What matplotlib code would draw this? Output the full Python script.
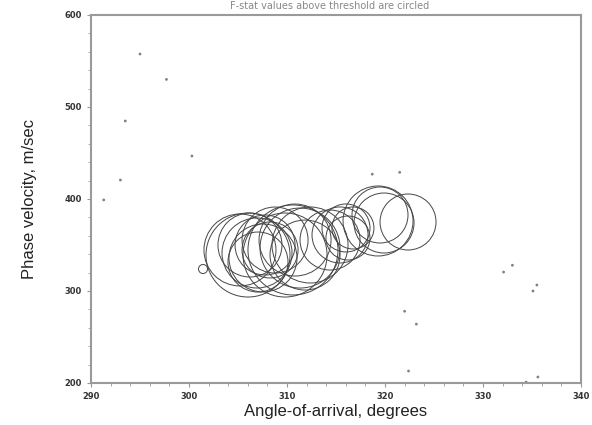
import matplotlib
matplotlib.use("Agg")
import matplotlib.pyplot as plt
import numpy as np

# Circled detections: angle (deg), phase velocity (m/s), F-stat (circle size)
circ_angle = [306.02, 306.94, 307.55, 307.76, 308.27, 306.22, 308.78, 305.2, 307.04,
              310.61, 311.33, 312.35, 309.80, 311.84, 310.82,
              316.02, 316.73, 315.41, 316.22, 314.39,
              319.29, 319.90, 319.49, 322.35, 301.43]
circ_vel = [339.1, 341.3, 335.9, 350.0, 344.6, 350.0, 355.4, 344.6, 331.5,
            344.6, 346.7, 350.0, 339.1, 339.1, 355.4,
            368.5, 368.5, 360.9, 357.6, 355.4,
            376.1, 373.9, 382.6, 375.0, 323.9]
circ_fstat = [42, 35, 34, 30, 28, 32, 33, 36, 30,
              45, 40, 38, 42, 35, 36,
              24, 21, 28, 22, 30,
              35, 30, 28, 28, 4.5]

# Low-F detections (small dots)
dot_angle = [291.3, 293.0, 293.5, 295.0, 297.7, 300.3, 318.7, 321.5,
             322.0, 323.2, 322.4, 332.1, 333.0, 335.1, 335.5, 335.6, 334.4]
dot_vel = [399, 420.6, 484.8, 557.6, 530, 446.7, 427, 429,
           278, 264, 213, 320.6, 328, 300, 306.5, 206.5, 201]

W, H, DPI = 592, 425, 100
fig = plt.figure(figsize=(W / DPI, H / DPI), dpi=DPI)
ax = fig.add_axes([91 / W, 1 - 383 / H, (581 - 91) / W, (383 - 15) / H])

# marker size: F-stat used as radius in pixels -> points^2
diam_pt = 2 * np.array(circ_fstat) * 72 / DPI
ax.scatter(circ_angle, circ_vel, s=diam_pt ** 2, facecolors="none",
           edgecolors="#454545", linewidths=0.7, zorder=3)
ax.scatter(dot_angle, dot_vel, s=4, color="#808080", edgecolors="none", zorder=2)

ax.set_xlim(290, 340)
ax.set_ylim(200, 600)
ax.set_xticks([290, 300, 310, 320, 330, 340])
ax.set_xticks(np.arange(290, 341, 2), minor=True)
ax.set_yticks([200, 300, 400, 500, 600])
ax.set_yticks(np.arange(200, 601, 20), minor=True)
ax.tick_params(which="both", direction="out", color="#999999", labelsize=6,
               labelcolor="#333333")
ax.tick_params(which="major", length=3, width=0.8)
ax.tick_params(which="minor", length=2, width=0.6)
for lab in ax.get_xticklabels() + ax.get_yticklabels():
    lab.set_fontweight("bold")
for sp in ax.spines.values():
    sp.set_color("#9a9a9a")
    sp.set_linewidth(1.5)

ax.set_xlabel("Angle-of-arrival, degrees", fontsize=12, family="Liberation Sans",
              color="#222222", labelpad=2)
ax.set_ylabel("Phase velocity, m/sec", fontsize=12, family="Liberation Sans",
              color="#222222", labelpad=20)

fig.text(330 / W, 1 - 1 / H, "F-stat values above threshold are circled", ha="center",
         va="top", fontsize=7, color="#888888")

fig.savefig("out.png", dpi=DPI)
